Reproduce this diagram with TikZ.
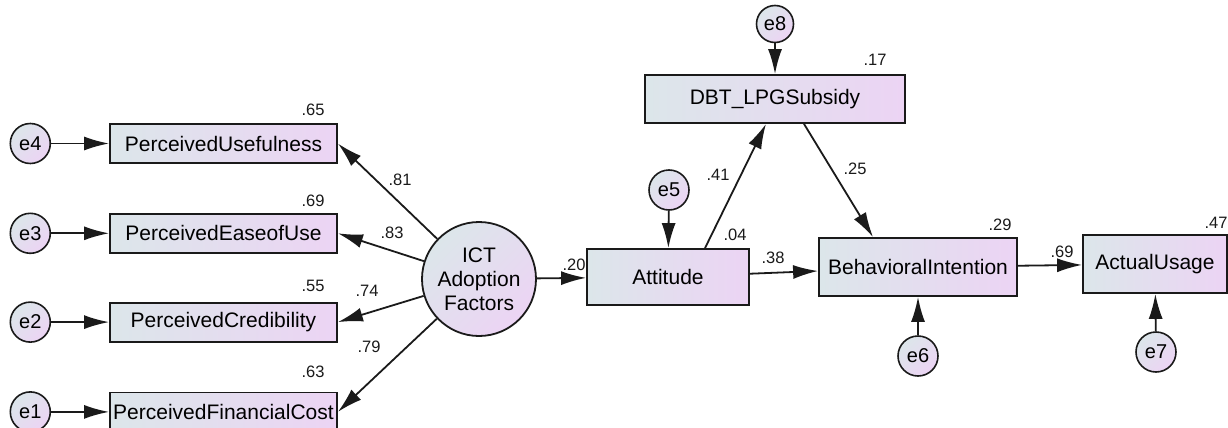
\documentclass[tikz,border=0pt]{standalone}
\usepackage{fontspec}
\setmainfont{Liberation Sans}
\usetikzlibrary{arrows.meta,positioning}
\definecolor{semBlue}{HTML}{DCE6EA}
\definecolor{semLilac}{HTML}{ECD4F4}
\definecolor{semLine}{HTML}{1A1A1A}

\begin{document}
\begin{tikzpicture}[x=1pt, y=-1pt,
  obs/.style={draw=semLine, line width=1.8pt, left color=semBlue, right color=semLilac, font=\fontsize{21}{24}\selectfont, minimum height=39pt, inner sep=0pt},
  err/.style={circle, draw=semLine, line width=1.6pt, top color=semBlue, bottom color=semLilac, shading angle=45, font=\fontsize{20}{24}\selectfont, minimum size=40pt, inner sep=0pt},
  latent/.style={circle, draw=semLine, line width=1.8pt, top color=semBlue, bottom color=semLilac, shading angle=45, font=\fontsize{21}{24}\selectfont, align=center, minimum size=114pt, inner sep=0pt},
  val/.style={font=\fontsize{16.5}{18}\selectfont, text=semLine, inner sep=0pt},
  link/.style={-{Latex[length=25pt,width=14pt]}, line width=1.8pt, semLine},
]
  \useasboundingbox (0,0) rectangle (1228,428);
  % indicators of the latent factor
  \node[obs, minimum width=227pt] (pu) at (223.5,143.5) {PerceivedUsefulness};
  \node[obs, minimum width=227pt, below=49pt of pu] (peou) {PerceivedEaseofUse};
  \node[obs, minimum width=227pt, below=48pt of peou] (pc) {PerceivedCredibility};
  \node[obs, minimum width=227pt, below=49pt of pc] (pfc) {PerceivedFinancialCost};
  \node[err, left=58pt of pu] (e4) {e4};
  \node[err, left=58pt of peou] (e3) {e3};
  \node[err, left=58pt of pc] (e2) {e2};
  \node[err, left=58pt of pfc] (e1) {e1};
  \node[latent] (ict) at (479,279) {ICT\\Adoption\\Factors};
  % structural part
  \node[obs, minimum width=162pt, minimum height=56pt] (att) at (668,277) {Attitude};
  \node[obs, minimum width=260pt, minimum height=48pt] (dbt) at (775,99) {DBT\_LPGSubsidy};
  \node[obs, minimum width=198pt, minimum height=58pt] (bi) at (918,267) {BehavioralIntention};
  \node[obs, minimum width=144pt, minimum height=58pt] (au) at (1155,264) {ActualUsage};
  \node[err] (e5) at (669,190) {e5};
  \node[err, minimum size=37pt] (e8) at (775,24) {e8};
  \node[err] (e6) at (918,356) {e6};
  \node[err] (e7) at (1156,352) {e7};
  \foreach \e/\v in {e4/pu,e3/peou,e2/pc,e1/pfc,e5/att,e8/dbt,e6/bi,e7/au}\draw[link] (\e) -- (\v);
  \foreach \v in {pu,peou,pc,pfc}\draw[link] (ict) -- (\v.east);
  \draw[link] (ict) -- (att);
  \draw[link] ([xshift=37pt]att.north) -- ([xshift=-9pt]dbt.south);
  \draw[link] ([xshift=29pt]dbt.south) -- ([xshift=-45pt]bi.north);
  \draw[link] (att) -- (bi);
  \draw[link] (bi) -- (au);
  % estimates
  \node[val] (w81) at (400,180) {.81};
  \node[val] (w83) at (392,233) {.83};
  \node[val] (w74) at (367,291) {.74};
  \node[val] (w79) at (369,347) {.79};
  \node[val] (w20) at (574,265) {.20};
  \node[val] (w41) at (718,175) {.41};
  \node[val] (w25) at (855,169) {.25};
  \node[val] (w38) at (773,258) {.38};
  \node[val] (w69) at (1062,252) {.69};
  \node[val] (r65) at (313,110) {.65};
  \node[val] (r69) at (313,201) {.69};
  \node[val] (r55) at (313,286) {.55};
  \node[val] (r63) at (313,372) {.63};
  \node[val] (r17) at (875,60) {.17};
  \node[val] (r04) at (735,235) {.04};
  \node[val] (r29) at (1000,225) {.29};
  \node[val] (r47) at (1216,223) {.47};
\end{tikzpicture}
\end{document}
